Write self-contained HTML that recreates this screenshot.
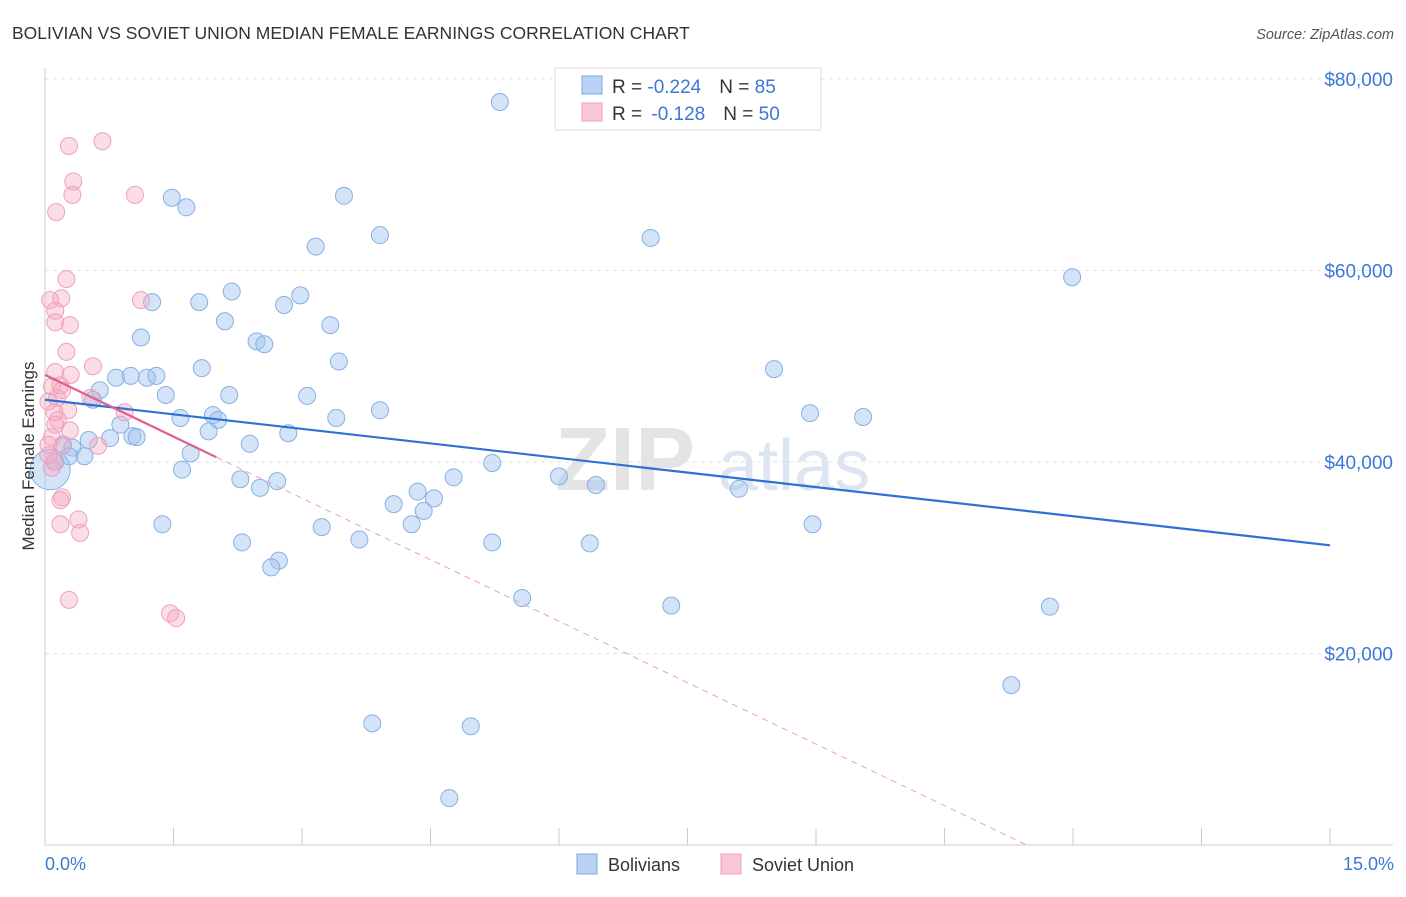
<!DOCTYPE html>
<html><head><meta charset="utf-8"><style>
body{margin:0;background:#fff;font-family:"Liberation Sans",sans-serif;}
svg text{font-family:"Liberation Sans",sans-serif;}
</style></head><body>
<svg width="1406" height="892" viewBox="0 0 1406 892" id="chart">
<text x="12" y="39" font-size="17.5" fill="#333">BOLIVIAN VS SOVIET UNION MEDIAN FEMALE EARNINGS CORRELATION CHART</text>
<text x="1394" y="39" font-size="14.5" fill="#555" font-style="italic" text-anchor="end">Source: ZipAtlas.com</text>
<g><text x="555" y="490" font-size="90" fill="#e4e4e4" font-family="Liberation Serif" font-weight="bold">ZIP</text><text x="718" y="490" font-size="72" fill="#dce6f3">atlas</text></g>
<g id="grid"></g>
<g id="axes"></g>
<g id="marks"></g>
<text transform="translate(34,456) rotate(-90)" font-size="17" fill="#333" text-anchor="middle">Median Female Earnings</text>
<text x="45" y="870" font-size="18" fill="#3b78d6">0.0%</text>
<text x="1394" y="870" font-size="18" fill="#3b78d6" text-anchor="end">15.0%</text>
<g>
<rect x="555" y="68" width="266" height="62" fill="#fff" stroke="#ddd"/>
<rect x="582" y="76" width="20" height="18" fill="#b9d2f5" stroke="#7aa8e0"/>
<rect x="582" y="103" width="20" height="18" fill="#f9c6d6" stroke="#f0a0b8"/>
<text x="612" y="93" font-size="19" fill="#333">R = <tspan fill="#3b78d6">-0.224</tspan><tspan dx="18">N = </tspan><tspan fill="#3b78d6">85</tspan></text>
<text x="612" y="120" font-size="19" fill="#333">R = <tspan dx="4" fill="#3b78d6">-0.128</tspan><tspan dx="18">N = </tspan><tspan fill="#3b78d6">50</tspan></text>
</g>
<g>
<rect x="577" y="854" width="20" height="20" fill="#b9d2f5" stroke="#7aa8e0"/>
<text x="608" y="871" font-size="18" fill="#333">Bolivians</text>
<rect x="721" y="854" width="20" height="20" fill="#f9c6d6" stroke="#f0a0b8"/>
<text x="752" y="871" font-size="18" fill="#333">Soviet Union</text>
</g>
</svg>
<script>
const yTicks=[20000,40000,60000,80000];
const yTickLabels=["$20,000","$40,000","$60,000","$80,000"];
const xTicks=[0,1.5,3,4.5,6,7.5,9,10.5,12,13.5,15];
const blueX=[5.31,1.48,1.65,3.49,3.91,7.07,3.16,11.99,2.18,1.25,1.80,2.79,2.98,2.10,3.33,1.12,2.47,2.56,3.43,1.83,8.51,0.83,1.00,1.19,1.30,0.64,1.41,2.15,3.06,0.56,3.91,8.93,9.55,1.58,1.96,2.02,3.40,0.88,1.91,2.84,1.02,1.07,0.76,0.51,2.39,0.21,0.32,0.46,0.28,1.70,5.22,1.60,4.77,6.00,2.28,2.71,2.51,6.43,8.10,4.35,4.54,4.07,4.42,4.28,1.37,3.23,8.96,3.67,2.30,5.22,6.36,2.73,2.64,5.57,7.31,11.73,11.28,3.82,4.97,4.72,0.12];
const blueY=[77.6,67.6,66.6,67.8,63.7,63.4,62.5,59.3,57.8,56.7,56.7,56.4,57.4,54.7,54.3,53.0,52.6,52.3,50.5,49.8,49.7,48.8,49.0,48.8,49.0,47.5,47.0,47.0,46.9,46.5,45.4,45.1,44.7,44.6,44.9,44.4,44.6,43.9,43.2,43.0,42.7,42.6,42.5,42.3,41.9,41.8,41.5,40.6,40.6,40.9,39.9,39.2,38.4,38.5,38.2,38.0,37.3,37.6,37.2,36.9,36.2,35.6,34.9,33.5,33.5,33.2,33.5,31.9,31.6,31.6,31.5,29.7,29.0,25.8,25.0,24.9,16.7,12.7,12.4,4.9,40.0];
const pinkX=[0.67,0.28,0.33,0.32,1.05,0.13,0.25,0.06,0.19,0.12,0.29,0.12,1.12,0.25,0.56,0.12,0.30,0.18,0.08,0.20,0.14,0.53,0.04,0.27,0.93,0.15,0.12,0.29,0.08,0.04,0.20,0.62,0.11,0.08,0.20,0.18,0.18,0.39,0.41,0.28,1.46,1.53,0.11,0.04];
const pinkY=[73.5,73.0,69.3,67.9,67.9,66.1,59.1,56.9,57.1,55.8,54.3,54.6,56.9,51.5,50.0,49.4,49.1,48.0,47.9,47.5,46.7,46.7,46.3,45.4,45.2,44.4,43.9,43.3,42.6,41.8,41.6,41.7,40.0,39.4,36.3,36.0,33.5,34.0,32.6,25.6,24.2,23.7,45.2,40.7];
const blueTrend=[[0,46.5],[15,31.3]];
const pinkTrend=[[0,49.1],[2,40.5]];
const pinkDash=[[2,40.5],[11.46,0]];
const NS="http://www.w3.org/2000/svg";
const X=v=>45+v/15*1285, Y=v=>845-v/80000*766;
function mk(t,a,p){const e=document.createElementNS(NS,t);for(const k in a)e.setAttribute(k,a[k]);p.appendChild(e);return e;}
const grid=document.getElementById('grid'),axes=document.getElementById('axes'),marks=document.getElementById('marks');
yTicks.forEach((t,i)=>{
 const l=mk('line',{x1:45,x2:1393,y1:Y(t),y2:Y(t),stroke:'#e2e2e2','stroke-dasharray':'4,4'},grid);
 
 
 const tx=mk('text',{x:1393,y:Y(t)+7,'font-size':19,fill:'#3b78d6','text-anchor':'end'},axes);
 tx.textContent=yTickLabels[i];
 
 
});
const ax=mk('line',{x1:45,x2:1393,y1:845,y2:845,stroke:'#ccc'},axes);


const ay=mk('line',{x1:45,x2:45,y1:68,y2:845,stroke:'#ccc'},axes);


xTicks.forEach(t=>{const l=mk('line',{x1:X(t),x2:X(t),y1:828,y2:845+(t===0?0:0),stroke:'#ccc'},axes);
 
 });
blueX.forEach((x,i)=>{const c=mk('circle',{cx:X(x),cy:Y(blueY[i]*1000),r:8.5,fill:'rgba(160,195,240,0.45)',stroke:'#86b0e4','stroke-width':1},marks);
 
 });
const big=mk('circle',{cx:X(0.06),cy:Y(39200),r:20,fill:'rgba(160,195,240,0.45)',stroke:'#86b0e4'},marks);


pinkX.forEach((x,i)=>{const c=mk('circle',{cx:X(x),cy:Y(pinkY[i]*1000),r:8.5,fill:'rgba(245,170,195,0.4)',stroke:'#f0a0b8','stroke-width':1},marks);
 
 });
const bl=mk('line',{x1:X(blueTrend[0][0]),y1:Y(blueTrend[0][1]*1000),x2:X(blueTrend[1][0]),y2:Y(blueTrend[1][1]*1000),stroke:'#2f6fd6','stroke-width':2.2},marks);


const pd=mk('line',{x1:X(pinkDash[0][0]),y1:Y(pinkDash[0][1]*1000),x2:X(pinkDash[1][0]),y2:Y(pinkDash[1][1]*1000),stroke:'#eaa0b8','stroke-width':1,'stroke-dasharray':'6,5'},marks);


const pl=mk('line',{x1:X(pinkTrend[0][0]),y1:Y(pinkTrend[0][1]*1000),x2:X(pinkTrend[1][0]),y2:Y(pinkTrend[1][1]*1000),stroke:'#e0608e','stroke-width':2.2},marks);


</script>
</body></html>
